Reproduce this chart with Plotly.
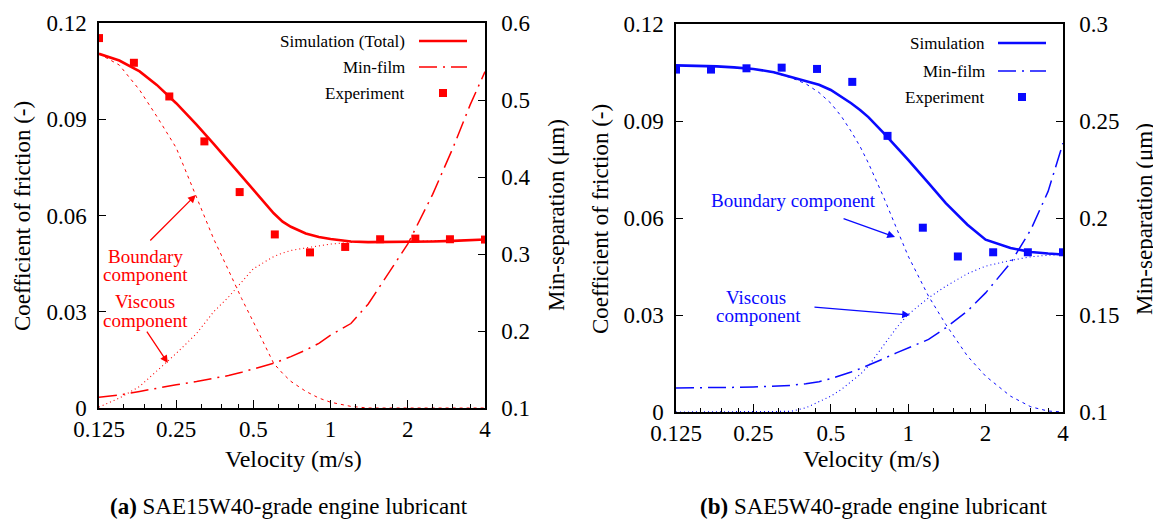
import numpy as np
import plotly.graph_objects as go
from plotly.subplots import make_subplots

# page body adds an 8px margin: figure covers the viewport from (8, 8)
OFF = 8
W, H = 1161 - OFF, 520 - OFF
FONT = "'Liberation Serif', 'Times New Roman', 'DejaVu Serif', serif"
RED = "#ff0000"
BLUE = "#0a0aff"

# ---------------- data ----------------
x_exp = [0.125, 0.171, 0.235, 0.322, 0.442, 0.606, 0.831, 1.14, 1.56, 2.14, 2.92, 4.0]
a_exp = [0.1153, 0.1076, 0.0971, 0.0831, 0.0673, 0.0541, 0.0485, 0.0502, 0.0526, 0.0528, 0.0526, 0.0525]
b_exp = [0.1059, 0.1059, 0.1063, 0.1065, 0.1061, 0.1021, 0.0854, 0.0570, 0.0481, 0.0494, 0.0494, 0.0494]

x_sim = [0.125, 0.15, 0.18, 0.21, 0.25, 0.3, 0.35, 0.4, 0.45, 0.5, 0.55, 0.6, 0.65,
         0.7, 0.8, 0.9, 1.0, 1.2, 1.4, 1.7, 2.0, 2.5, 3.0, 3.5, 4.0]

a_total = [0.1104, 0.1083, 0.1049, 0.1007, 0.0950, 0.0883, 0.0823, 0.0769, 0.0722, 0.0681,
           0.0642, 0.0607, 0.0581, 0.0565, 0.0544, 0.0533, 0.0527, 0.0519, 0.0517, 0.0517,
           0.0518, 0.0519, 0.0521, 0.0523, 0.0525]
a_boundary = [0.1104, 0.1069, 0.0991, 0.0909, 0.0811, 0.0656, 0.0527, 0.0429, 0.0341, 0.0268,
              0.0201, 0.0139, 0.0108, 0.0083, 0.0052, 0.0031, 0.0018, 0.0005, 0.0, 0.0,
              0.0, 0.0, 0.0, 0.0, 0.0]
a_viscous = [0.0003, 0.0031, 0.0067, 0.0114, 0.0170, 0.0232, 0.0300, 0.0346, 0.0392, 0.0434,
             0.0454, 0.0472, 0.0483, 0.0491, 0.0499, 0.0506, 0.0511, 0.0516, 0.0517, 0.0517,
             0.0518, 0.0519, 0.0521, 0.0523, 0.0525]
a_film = [0.1138, 0.1168, 0.1215, 0.1258, 0.1301, 0.1344, 0.1387, 0.1422, 0.1465, 0.1503,
          0.1546, 0.1581, 0.1624, 0.1667, 0.1753, 0.1839, 0.1947, 0.2097, 0.2347, 0.2764,
          0.3130, 0.3775, 0.4378, 0.4937, 0.5368]

b_total = [0.1072, 0.1071, 0.1069, 0.1066, 0.1061, 0.1051, 0.1037, 0.1024, 0.1012, 0.0996,
           0.0975, 0.0955, 0.0934, 0.0912, 0.0864, 0.0821, 0.0780, 0.0708, 0.0646, 0.0579,
           0.0533, 0.0507, 0.0495, 0.0490, 0.0487]
b_boundary = [0.1072, 0.1071, 0.1069, 0.1066, 0.1061, 0.1050, 0.1034, 0.1015, 0.0988, 0.0955,
              0.0914, 0.0868, 0.0821, 0.0770, 0.0667, 0.0569, 0.0482, 0.0358, 0.0271, 0.0173,
              0.0111, 0.0049, 0.0016, 0.0003, 0.0]
b_viscous = [0.0, 0.0, 0.0, 0.0, 0.0, 0.0, 0.0002, 0.0013, 0.0031, 0.0049,
             0.0070, 0.0093, 0.0116, 0.0142, 0.0204, 0.0260, 0.0302, 0.0353, 0.0389, 0.0428,
             0.0451, 0.0469, 0.0480, 0.0485, 0.0487]
b_film = [0.1124, 0.1124, 0.1125, 0.1127, 0.1129, 0.1132, 0.1137, 0.1146, 0.1156, 0.1172,
          0.1189, 0.1206, 0.1223, 0.1240, 0.1274, 0.1305, 0.1331, 0.1374, 0.1434, 0.1520,
          0.1614, 0.1768, 0.1940, 0.2137, 0.2386]

x_ticks = [0.125, 0.25, 0.5, 1, 2, 4]
x_ticktext = ["0.125", "0.25", "0.5", "1", "2", "4"]
x_minor = [0.15625, 0.1875, 0.21875, 0.3125, 0.375, 0.4375, 0.625, 0.75, 0.875,
           1.25, 1.5, 1.75, 2.5, 3.0, 3.5]
y_ticks = [0, 0.03, 0.06, 0.09, 0.12]
y_ticktext = ["0", "0.03", "0.06", "0.09", "0.12"]
a_y2_ticks = [0.1, 0.2, 0.3, 0.4, 0.5, 0.6]
a_y2_text = ["0.1", "0.2", "0.3", "0.4", "0.5", "0.6"]
b_y2_ticks = [0.1, 0.15, 0.2, 0.25, 0.3]
b_y2_text = ["0.1", "0.15", "0.2", "0.25", "0.3"]

# ---------------- figure ----------------
fig = make_subplots(rows=1, cols=2, specs=[[{"secondary_y": True}, {"secondary_y": True}]])

DASHDOT = "18px,6px,2px,6px"

def add_panel(col, color, total, boundary, viscous, film, exp):
    fig.add_trace(go.Scatter(x=x_sim, y=boundary, mode="lines",
                             line=dict(color=color, width=1, dash="3px,4px"), showlegend=False),
                  row=1, col=col, secondary_y=False)
    fig.add_trace(go.Scatter(x=x_sim, y=viscous, mode="lines",
                             line=dict(color=color, width=1.1, dash="1px,3px"), showlegend=False),
                  row=1, col=col, secondary_y=False)
    fig.add_trace(go.Scatter(x=x_sim, y=film, mode="lines",
                             line=dict(color=color, width=1.5, dash=DASHDOT), showlegend=False),
                  row=1, col=col, secondary_y=True)
    fig.add_trace(go.Scatter(x=x_sim, y=total, mode="lines",
                             line=dict(color=color, width=2.6), showlegend=False),
                  row=1, col=col, secondary_y=False)
    fig.add_trace(go.Scatter(x=x_exp, y=exp, mode="markers",
                             marker=dict(symbol="square", size=8, color=color), showlegend=False),
                  row=1, col=col, secondary_y=False)

add_panel(1, RED, a_total, a_boundary, a_viscous, a_film, a_exp)
add_panel(2, BLUE, b_total, b_boundary, b_viscous, b_film, b_exp)

tickfont = dict(family=FONT, size=23, color="black")
common_x = dict(type="log", range=[np.log10(0.125), np.log10(4)], tickmode="array",
                tickvals=x_ticks, ticktext=x_ticktext, ticks="inside", ticklen=8,
                tickwidth=1.2, tickcolor="black", showline=True, linecolor="black",
                linewidth=1.5, mirror=True, showgrid=False, zeroline=False,
                tickfont=tickfont, ticklabelstandoff=0, automargin=False,
                minor=dict(tickmode="array", tickvals=x_minor, ticks="inside",
                           ticklen=4, tickwidth=1, tickcolor="black", showgrid=False))
fig.update_xaxes(**common_x)

common_y = dict(range=[0, 0.12], tickmode="array", tickvals=y_ticks, ticktext=y_ticktext,
                ticks="inside", ticklen=7, tickwidth=1.2, tickcolor="black", showline=True,
                linecolor="black", linewidth=1.5, showgrid=False, zeroline=False,
                tickfont=tickfont, ticklabelstandoff=6, automargin=False)
fig.update_yaxes(**common_y, row=1, col=1, secondary_y=False)
fig.update_yaxes(**common_y, row=1, col=2, secondary_y=False)

common_y2 = dict(ticks="inside", ticklen=7, tickwidth=1.2, tickcolor="black", showline=True,
                 linecolor="black", linewidth=1.5, showgrid=False, zeroline=False,
                 tickfont=tickfont, ticklabelstandoff=10, tickmode="array", automargin=False)
fig.update_yaxes(**common_y2, range=[0.1, 0.6], tickvals=a_y2_ticks, ticktext=a_y2_text,
                 row=1, col=1, secondary_y=True)
fig.update_yaxes(**common_y2, range=[0.1, 0.3], tickvals=b_y2_ticks, ticktext=b_y2_text,
                 row=1, col=2, secondary_y=True)

def px(x):
    return (x - OFF) / W

def py(y):
    return 1 - (y - OFF) / H

fig.update_layout(
    xaxis=dict(domain=[px(99), px(485)]),
    xaxis2=dict(domain=[px(676), px(1063)]),
    yaxis=dict(domain=[py(408), py(23)]),
    yaxis3=dict(domain=[py(412), py(24)]),
)

annotations = []
shapes = []

def text(x, y, s, size=20, color="black", angle=0, xanchor="center"):
    annotations.append(dict(x=px(x), y=py(y), xref="paper", yref="paper", text=s,
                            showarrow=False, textangle=angle, xanchor=xanchor, yanchor="middle",
                            font=dict(family=FONT, size=size, color=color)))

# axis titles
text(22, 216, "Coefficient of friction (-)", 23, angle=-90)
text(556, 215, "Min-separation (μm)", 23, angle=-90)
text(600, 219, "Coefficient of friction (-)", 23, angle=-90)
text(1144, 219, "Min-separation (μm)", 23, angle=-90)
text(293, 459, "Velocity (m/s)", 24)
text(872, 459, "Velocity (m/s)", 24)

# captions
text(289, 506, "<b>(a)</b> SAE15W40-grade engine lubricant", 23)
text(873, 506, "<b>(b)</b> SAE5W40-grade engine lubricant", 23)

# component labels
text(145, 256, "Boundary", 19, RED)
text(145, 274, "component", 19, RED)
text(145, 301, "Viscous", 19, RED)
text(145, 320, "component", 19, RED)
text(793, 200, "Boundary component", 19, BLUE)
text(756, 297, "Viscous", 19, BLUE)
text(758, 315, "component", 19, BLUE)

# arrows (tip in data coordinates, tail offset in pixels)
def arrow(xref, yref, xv, yv, ax, ay, color):
    annotations.append(dict(x=np.log10(xv), y=yv, xref=xref, yref=yref, ax=ax, ay=ay,
                            axref="pixel", ayref="pixel", text="", showarrow=True,
                            arrowhead=2, arrowsize=1.2, arrowwidth=1.3, arrowcolor=color))

arrow("x", "y", 0.298, 0.0664, -47, 47, RED)
arrow("x", "y", 0.232, 0.0140, -22, -33, RED)
arrow("x2", "y3", 0.889, 0.0541, -53, -19, BLUE)
arrow("x2", "y3", 1.016, 0.0300, -97, -8, BLUE)

# legends (drawn manually: text on the left, sample on the right)
def legend(right, rows, l0, l1, color, labels):
    for (lab, yy, kind) in zip(labels, rows, ["solid", "dashdot", "marker"]):
        text(right, yy, lab, 17, "black", xanchor="right")
        if kind == "solid":
            shapes.append(dict(type="line", xref="paper", yref="paper", x0=px(l0), x1=px(l1),
                               y0=py(yy), y1=py(yy), line=dict(color=color, width=2.6)))
        elif kind == "dashdot":
            shapes.append(dict(type="line", xref="paper", yref="paper", x0=px(l0), x1=px(l1),
                               y0=py(yy), y1=py(yy), line=dict(color=color, width=1.5, dash=DASHDOT)))
        else:
            c = (l0 + l1) / 2
            shapes.append(dict(type="rect", xref="paper", yref="paper", x0=px(c - 4), x1=px(c + 4),
                               y0=py(yy + 4), y1=py(yy - 4), line=dict(width=0), fillcolor=color))

legend(407, [41, 67, 93], 419, 467, RED, ["Simulation (Total)", "Min-film", "Experiment"])
legend(987, [43, 71, 97], 998, 1046, BLUE, ["Simulation", "Min-film", "Experiment"])

fig.update_layout(width=W, height=H, margin=dict(l=0, r=0, t=0, b=0, autoexpand=False),
                  template="none",
                  paper_bgcolor="white", plot_bgcolor="white",
                  annotations=annotations, shapes=shapes, showlegend=False,
                  font=dict(family=FONT, color="black"))

fig.write_html("out.html")
